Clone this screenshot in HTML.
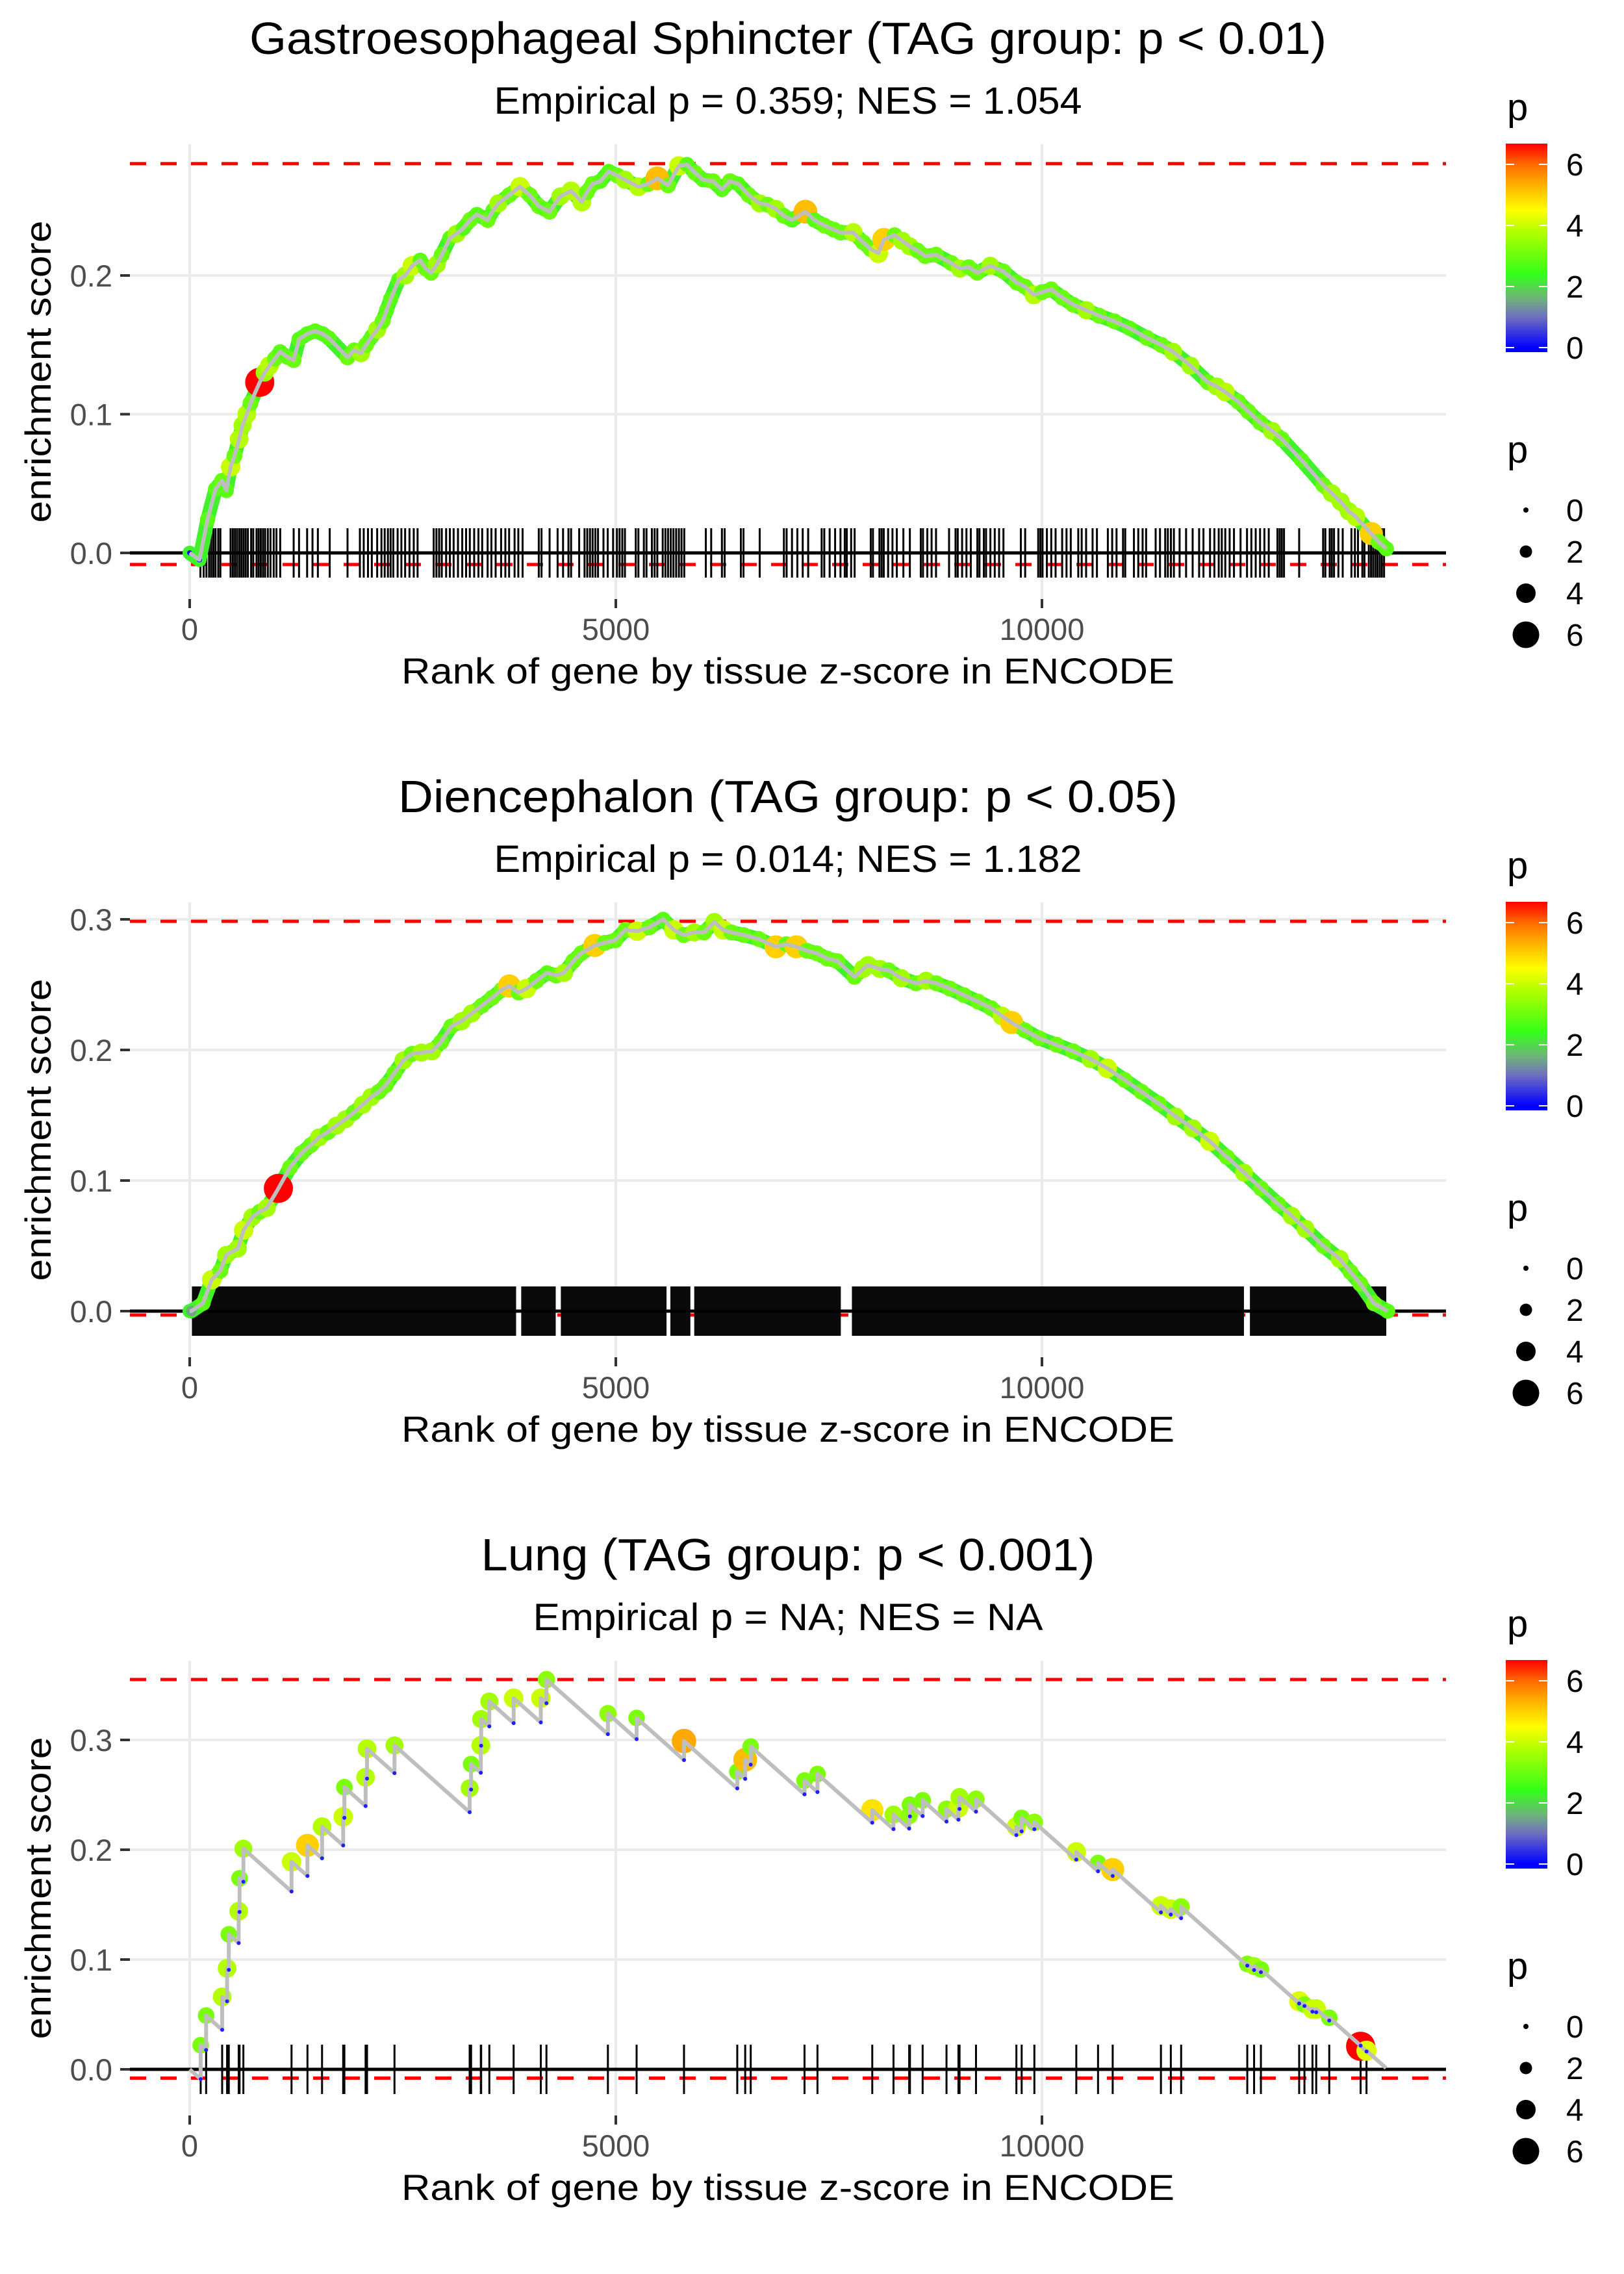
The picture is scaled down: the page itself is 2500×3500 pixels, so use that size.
<!DOCTYPE html>
<html><head><meta charset="utf-8">
<style>
html,body{margin:0;padding:0;background:#fff;}
svg{display:block;font-family:"Liberation Sans",Arial,sans-serif;}
</style></head>
<body>
<svg id="fig" xmlns="http://www.w3.org/2000/svg" width="2500" height="3500" viewBox="0 0 2500 3500">
<rect x="0" y="0" width="2500" height="3500" fill="#fff"/>
<g id="panel0"></g>
<g id="panel1"></g>
<g id="panel2"></g>
</svg>
<script>
// ---------- data ----------
const panelTitles = ["Gastroesophageal Sphincter (TAG group: p < 0.01)", "Diencephalon (TAG group: p < 0.05)", "Lung (TAG group: p < 0.001)"];
const panelSubtitles = ["Empirical p = 0.359; NES = 1.054", "Empirical p = 0.014; NES = 1.182", "Empirical p = NA; NES = NA"];
const titleWidths = [1658, 1200, 945];
const subWidths = [905, 905, 785];
const xTicks = [0, 5000, 10000];
const xTickLabels = ["0", "5000", "10000"];
const yTicks1 = [0, 0.1, 0.2];
const yTicks2 = [0, 0.1, 0.2, 0.3];
const yTicks3 = [0, 0.1, 0.2, 0.3];
const esMax = [0.2806, 0.2985, 0.355];
const esMin = [-0.0084, -0.003, -0.008];

const p1Rank = [0,114,209,303,380,430,480,525,580,620,670,714,822,880,935,1000,1062,1150,1220,1283,1380,1473,1560,1631,1852,1930,2010,2070,2137,2200,2263,2310,2358,2453,2530,2611,2705,2770,2832,2900,2958,3053,3130,3211,3290,3369,3496,3560,3622,3750,3875,3990,4096,4160,4222,4349,4475,4602,4660,4728,4820,4918,5020,5107,5265,5380,5487,5613,5740,5834,5930,6024,6140,6245,6340,6435,6560,6688,6780,6877,6970,7067,7225,7330,7446,7560,7636,7786,7900,7991,8080,8144,8271,8360,8450,8540,8629,8756,8935,9037,9140,9241,9394,9547,9701,9800,9905,10000,10109,10240,10365,10520,10671,10850,11028,11232,11400,11539,11743,11947,12050,12151,12304,12420,12560,12700,12815,13045,13300,13400,13505,13600,13684,13863,13950,14041];
const p1ES = [0,-0.005,0.024,0.046,0.052,0.045,0.062,0.070,0.082,0.092,0.100,0.108,0.123,0.130,0.135,0.140,0.145,0.141,0.139,0.154,0.158,0.160,0.158,0.155,0.141,0.146,0.144,0.150,0.156,0.161,0.167,0.175,0.183,0.197,0.200,0.207,0.211,0.205,0.202,0.208,0.215,0.227,0.230,0.234,0.240,0.244,0.240,0.247,0.252,0.258,0.264,0.258,0.250,0.248,0.246,0.257,0.261,0.253,0.260,0.266,0.268,0.275,0.272,0.269,0.264,0.266,0.270,0.265,0.279,0.280,0.274,0.269,0.268,0.262,0.268,0.266,0.258,0.252,0.251,0.248,0.243,0.240,0.246,0.240,0.236,0.233,0.231,0.231,0.224,0.219,0.216,0.226,0.229,0.225,0.221,0.218,0.214,0.215,0.209,0.205,0.206,0.202,0.207,0.203,0.195,0.192,0.186,0.188,0.190,0.184,0.179,0.175,0.171,0.167,0.162,0.155,0.150,0.145,0.135,0.123,0.120,0.116,0.109,0.102,0.094,0.088,0.082,0.067,0.049,0.043,0.037,0.030,0.026,0.014,0.008,0.003];
const p1P = [0,0,2.8,2.8,3.0,2.8,4.0,3.0,3.8,3.6,3.8,3.0,6.7,3.6,3.8,3.0,2.8,2.8,3.0,2.8,2.8,2.8,2.8,2.8,3.0,3.0,3.6,3.0,2.8,3.6,3.0,2.8,2.8,2.8,3.6,4.0,2.8,3.0,3.0,3.6,3.0,2.8,3.6,2.8,3.0,2.8,3.0,2.8,3.6,3.0,4.0,3.0,3.0,2.8,3.0,3.6,3.8,3.8,3.0,3.0,2.8,2.8,3.0,3.6,3.8,3.0,5.2,3.0,4.0,2.8,3.0,2.8,3.0,2.8,3.0,2.8,3.0,3.6,3.0,3.6,3.0,2.8,5.2,2.8,3.0,3.0,3.0,3.8,3.0,3.0,4.0,5.0,3.0,3.6,3.6,3.0,3.0,3.0,3.0,3.6,3.0,3.0,3.6,3.0,3.0,3.0,3.8,3.0,3.0,3.0,3.0,3.6,3.0,3.0,2.8,3.0,3.0,3.6,3.6,3.0,3.6,3.8,3.0,3.0,3.0,3.6,3.0,2.8,3.0,3.6,3.6,3.6,3.8,5.0,3.0,2.8];
const p1Rug = [126,164,196,228,253,278,303,335,360,480,506,531,556,582,607,632,657,683,721,746,784,809,834,860,885,917,948,986,1018,1062,1220,1283,1378,1441,1504,1643,1852,1997,2042,2092,2137,2200,2250,2288,2326,2358,2389,2440,2484,2528,2579,2629,2674,2863,2895,2927,2958,3009,3053,3097,3148,3198,3243,3287,3338,3388,3432,3496,3540,3590,3654,3704,3748,3812,3856,3906,4096,4128,4223,4317,4381,4444,4475,4570,4633,4665,4697,4728,4760,4791,4855,4905,4968,5013,5044,5076,5107,5234,5265,5329,5360,5423,5455,5487,5550,5582,5613,5645,5676,5708,5740,5771,5803,6056,6119,6245,6277,6467,6498,6688,6972,7004,7067,7130,7193,7257,7415,7446,7509,7573,7636,7686,7710,7761,7802,7991,8017,8093,8119,8144,8195,8246,8297,8374,8450,8578,8604,8655,8705,8757,8910,8986,9012,9063,9114,9165,9242,9267,9318,9344,9395,9446,9497,9548,9752,9803,9956,9982,10007,10058,10109,10160,10237,10288,10338,10426,10466,10518,10594,10645,10773,10824,10875,10951,10977,11079,11130,11181,11222,11334,11385,11446,11477,11513,11548,11615,11691,11768,11844,11895,11972,12023,12074,12110,12151,12202,12253,12330,12406,12457,12508,12559,12610,12661,12763,12789,12814,12840,13018,13299,13325,13376,13401,13427,13478,13529,13631,13672,13708,13759,13784,13835,13861,13886,13912,13937,13963,13988,14014];

const p2Rank = [0,20,156,258,360,428,565,633,735,820,905,1041,1177,1313,1420,1517,1620,1722,1830,1926,2030,2130,2220,2301,2400,2508,2607,2720,2845,2950,3069,3190,3310,3430,3550,3660,3751,3860,3951,4070,4192,4300,4392,4500,4593,4753,4870,4994,5114,5250,5395,5555,5680,5796,5920,6036,6156,6260,6357,6500,6677,6878,7000,7118,7240,7359,7480,7599,7800,7900,7960,8100,8201,8350,8522,8640,8762,8920,9083,9250,9404,9530,9644,9800,9965,10170,10366,10570,10767,10970,11168,11370,11569,11770,11970,12170,12371,12570,12772,12930,13093,13300,13494,13620,13735,13895,14056];
const p2ES = [0,0,0.006,0.024,0.031,0.043,0.048,0.062,0.072,0.076,0.079,0.094,0.110,0.121,0.127,0.133,0.137,0.142,0.147,0.152,0.158,0.164,0.168,0.173,0.182,0.192,0.197,0.198,0.199,0.206,0.218,0.222,0.228,0.234,0.240,0.246,0.249,0.244,0.247,0.253,0.259,0.257,0.259,0.268,0.274,0.280,0.282,0.284,0.292,0.291,0.294,0.300,0.292,0.288,0.290,0.290,0.298,0.292,0.290,0.288,0.285,0.279,0.281,0.279,0.276,0.274,0.270,0.268,0.256,0.262,0.265,0.262,0.261,0.255,0.251,0.253,0.251,0.247,0.242,0.237,0.232,0.226,0.221,0.215,0.209,0.204,0.199,0.193,0.186,0.177,0.168,0.159,0.149,0.140,0.130,0.118,0.106,0.094,0.082,0.073,0.063,0.050,0.040,0.030,0.021,0.006,0.000];
const p2P = [0,1.5,2.8,4.0,3.0,3.6,3.6,4.0,3.6,3.0,3.6,6.7,3.0,3.0,3.0,3.6,3.0,3.6,3.6,3.0,3.6,3.6,3.0,3.0,3.0,3.6,3.0,3.6,3.6,3.0,3.0,3.6,3.6,3.0,3.0,3.0,5.0,3.0,4.0,3.0,2.8,3.0,3.6,3.0,3.0,5.0,3.0,3.0,3.0,4.0,3.0,2.8,4.0,3.0,3.6,3.0,3.6,4.0,3.0,3.0,3.0,5.0,3.0,5.0,3.0,3.0,3.0,3.0,3.0,3.6,3.6,3.6,3.0,3.6,3.0,3.6,3.0,3.0,3.0,3.0,3.0,3.8,5.0,3.0,3.0,3.0,3.0,3.6,4.0,3.0,3.0,3.0,3.6,3.6,4.0,3.0,3.6,3.0,3.0,3.6,3.6,3.0,3.6,3.0,3.0,3.0,2.8];
const p2RugStart = [26,3890,4355,5640,5920,7770,12440];
const p2RugEnd = [3830,4295,5595,5875,7640,12370,14040];

const p3Rank = [129,193,381,439,459,575,585,630,1195,1382,1553,1801,1815,2064,2081,2403,3285,3302,3416,3420,3516,3801,4120,4186,4907,5244,5800,6425,6518,6583,7214,7366,8009,8258,8442,8451,8600,8880,9020,9033,9226,9700,9762,9911,10403,10658,10830,11396,11512,11633,12409,12489,12569,13018,13080,13174,13218,13371,13739,13808];
const p3Top = [0.022,0.049,0.066,0.092,0.123,0.144,0.174,0.201,0.189,0.204,0.221,0.230,0.257,0.266,0.292,0.295,0.256,0.278,0.295,0.319,0.335,0.338,0.338,0.355,0.324,0.320,0.299,0.271,0.282,0.294,0.263,0.269,0.236,0.232,0.231,0.241,0.245,0.237,0.238,0.248,0.246,0.221,0.229,0.225,0.198,0.188,0.182,0.149,0.146,0.148,0.096,0.094,0.091,0.062,0.059,0.055,0.055,0.047,0.021,0.017];
const p3P = [3.2,3.2,3.8,3.8,3.2,3.8,3.2,3.6,4.0,5.0,3.8,4.0,3.2,3.8,3.8,3.6,3.6,3.2,3.8,3.6,3.6,4.0,4.0,3.4,3.4,3.2,5.4,3.2,5.2,3.2,3.2,3.2,4.8,3.6,3.4,3.2,3.2,3.4,4.0,3.6,3.4,4.0,3.2,3.4,4.0,3.2,5.0,4.0,4.0,3.4,3.2,3.6,3.2,4.2,3.2,4.0,4.0,3.2,6.7,4.2];
const p3Decline = 0.000069;
const p3EndRank = 14037;

const colorStops = [0, 1.0, 1.6, 2.4, 3.7, 4.5, 5.3, 6.0, 6.68];
const colorHex = ["#0000ff", "#6f6fc0", "#6fb27a", "#33ff1a", "#aaff00", "#ffff00", "#ffb400", "#ff6a00", "#ff0000"];
const sizeBreaks = [0, 2, 4, 6];
const colorBreaks = [0, 2, 4, 6];

// ---------- layout ----------
const NS = "http://www.w3.org/2000/svg";
const PANEL_H = 1167;
const X0 = 292, XK = 0.1312;
const PL = 200, PR = 2226, PT = 222, PB = 922;
const yZero = [851, 851, 851];
const yScaleK = [2135, 2010, 1690];

function sx(r) { return X0 + r * XK; }
function mk(tag, attrs, parent) {
  const e = document.createElementNS(NS, tag);
  for (const k in attrs) e.setAttribute(k, attrs[k]);
  parent.appendChild(e);
  return e;
}
function hex2rgb(h) { return [parseInt(h.substr(1,2),16), parseInt(h.substr(3,2),16), parseInt(h.substr(5,2),16)]; }
function pColor(p) {
  if (p <= colorStops[0]) return colorHex[0];
  for (let i = 1; i < colorStops.length; i++) {
    if (p <= colorStops[i]) {
      const t = (p - colorStops[i-1]) / (colorStops[i] - colorStops[i-1]);
      const a = hex2rgb(colorHex[i-1]), b = hex2rgb(colorHex[i]);
      return "rgb(" + a.map((v, j) => Math.round(v + (b[j]-v)*t)).join(",") + ")";
    }
  }
  return colorHex[colorHex.length-1];
}
function pRadius(p) { return 4 + 2.75 * p; }

function drawPanel(k, yTicks, title, sub) {
  const g = document.getElementById("panel" + k);
  const off = k * PANEL_H;
  const sy = v => off + yZero[k] - v * yScaleK[k];

  for (let i = 0; i < yTicks.length; i++) {
    const gl = mk("line", {x1: PL, x2: PR, y1: sy(yTicks[i]), y2: sy(yTicks[i]), stroke: "#ebebeb", "stroke-width": 4}, g);
    
    
  }
  for (let i = 0; i < xTicks.length; i++) {
    const gl = mk("line", {x1: sx(xTicks[i]), x2: sx(xTicks[i]), y1: off + PT, y2: off + PB, stroke: "#ebebeb", "stroke-width": 4}, g);
    
    
  }
  const t = mk("text", {x: 1213, y: off + 83, "text-anchor": "middle", "font-size": 70, fill: "#000", textLength: titleWidths[k], lengthAdjust: "spacingAndGlyphs"}, g);
  t.textContent = title;
  
  
  const st = mk("text", {x: 1213, y: off + 175, "text-anchor": "middle", "font-size": 58, fill: "#000", textLength: subWidths[k], lengthAdjust: "spacingAndGlyphs"}, g);
  st.textContent = sub;
  
  
  for (let i = 0; i < yTicks.length; i++) {
    const tk = mk("line", {x1: 185, x2: 200, y1: sy(yTicks[i]), y2: sy(yTicks[i]), stroke: "#333", "stroke-width": 4}, g);
    
    
    const tl = mk("text", {x: 173, y: sy(yTicks[i]) + 17, "text-anchor": "end", "font-size": 47, fill: "#4d4d4d"}, g);
    tl.textContent = yTicks[i].toFixed(1);
    
    
  }
  for (let i = 0; i < xTicks.length; i++) {
    const tk = mk("line", {x1: sx(xTicks[i]), x2: sx(xTicks[i]), y1: off + PB, y2: off + PB + 14, stroke: "#333", "stroke-width": 4}, g);
    
    
    const tl = mk("text", {x: sx(xTicks[i]), y: off + 985, "text-anchor": "middle", "font-size": 47, fill: "#4d4d4d"}, g);
    tl.textContent = xTickLabels[i];
    
    
  }
  const xt = mk("text", {x: 1213, y: off + 1052, "text-anchor": "middle", "font-size": 56, fill: "#000", textLength: 1190, lengthAdjust: "spacingAndGlyphs"}, g);
  xt.textContent = "Rank of gene by tissue z-score in ENCODE";
  
  
  const yt = mk("text", {x: 0, y: 0, "text-anchor": "middle", "font-size": 56, fill: "#000", transform: "translate(78," + (off + 572) + ") rotate(-90)", textLength: 465, lengthAdjust: "spacingAndGlyphs"}, g);
  yt.textContent = "enrichment score";
  
  
  return {g: g, sy: sy, off: off};
}

function drawRefLines(P, k) {
  const top = mk("line", {x1: PL, x2: PR, y1: P.sy(esMax[k]), y2: P.sy(esMax[k]), stroke: "#ff0000", "stroke-width": 5, "stroke-dasharray": "25 22"}, P.g);
  
  
  const bot = mk("line", {x1: PL, x2: PR, y1: P.sy(esMin[k]), y2: P.sy(esMin[k]), stroke: "#ff0000", "stroke-width": 5, "stroke-dasharray": "25 22"}, P.g);
  
  
}
function drawZero(P) {
  const z = mk("line", {x1: PL, x2: PR, y1: P.sy(0), y2: P.sy(0), stroke: "#000", "stroke-width": 5}, P.g);
  
  
}
function drawRug(P, ranks) {
  for (let i = 0; i < ranks.length; i++) {
    const l = mk("line", {x1: sx(ranks[i]), x2: sx(ranks[i]), y1: P.sy(0) - 38, y2: P.sy(0) + 38, stroke: "#000", "stroke-width": 3}, P.g);
    
    
  }
}

function drawLegend(off) {
  const g = mk("g", {}, document.getElementById("fig"));
  
  
  const defs = mk("defs", {}, g);
  const gid = "cb" + off;
  const grad = mk("linearGradient", {id: gid, x1: 0, y1: 1, x2: 0, y2: 0}, defs);
  const vMin = -0.15, vMax = 6.68;
  for (let i = 0; i < colorStops.length; i++) {
    mk("stop", {offset: ((colorStops[i] - vMin) / (vMax - vMin)).toFixed(3), "stop-color": colorHex[i]}, grad);
  }
  const t1 = mk("text", {x: 2320, y: off + 185, "font-size": 58, fill: "#000"}, g);
  t1.textContent = "p";
  
  
  const bar = mk("rect", {x: 2318, y: off + 221, width: 64, height: 321, fill: "url(#" + gid + ")"}, g);
  
  
  const cy = v => off + 535 - v * 47;
  for (let i = 0; i < colorBreaks.length; i++) {
    const y = cy(colorBreaks[i]);
    const a = mk("line", {x1: 2318, x2: 2331, y1: y, y2: y, stroke: "#fff", "stroke-width": 2}, g);
    
    
    const b = mk("line", {x1: 2369, x2: 2382, y1: y, y2: y, stroke: "#fff", "stroke-width": 2}, g);
    
    
    const l = mk("text", {x: 2411, y: y + 17, "font-size": 48, fill: "#000"}, g);
    l.textContent = String(colorBreaks[i]);
    
    
  }
  const t2 = mk("text", {x: 2320, y: off + 712, "font-size": 58, fill: "#000"}, g);
  t2.textContent = "p";
  
  
  for (let i = 0; i < sizeBreaks.length; i++) {
    const y = off + 785 + i * 64;
    const c = mk("circle", {cx: 2349, cy: y, r: pRadius(sizeBreaks[i]), fill: "#000"}, g);
    
    
    const l = mk("text", {x: 2411, y: y + 17, "font-size": 48, fill: "#000"}, g);
    l.textContent = String(sizeBreaks[i]);
    
    
  }
}

function drawDenseCurve(P, ranks, es, ps) {
  const pts = ranks.map((r, i) => sx(r).toFixed(1) + "," + P.sy(es[i]).toFixed(1)).join(" ");
  const under = mk("polyline", {points: pts, fill: "none", stroke: "#3ff22a", "stroke-width": 22, "stroke-linejoin": "round", "stroke-linecap": "round"}, P.g);
  
  
  for (let i = 0; i < ranks.length; i++) {
    const c = mk("circle", {cx: sx(ranks[i]), cy: P.sy(es[i]), r: pRadius(ps[i]), fill: pColor(ps[i])}, P.g);
    
    
  }
  const line = mk("polyline", {points: pts, fill: "none", stroke: "#bebebe", "stroke-width": 6, "stroke-linejoin": "round"}, P.g);
  
  
}

// Panel 1
let P = drawPanel(0, yTicks1, panelTitles[0], panelSubtitles[0]);
drawRefLines(P, 0);
drawZero(P);
drawRug(P, p1Rug);
drawDenseCurve(P, p1Rank, p1ES, p1P);
drawLegend(0);

// Panel 2
P = drawPanel(1, yTicks2, panelTitles[1], panelSubtitles[1]);
drawRefLines(P, 1);
for (let i = 0; i < p2RugStart.length; i++) {
  const r = mk("rect", {x: sx(p2RugStart[i]), y: P.sy(0) - 38, width: sx(p2RugEnd[i]) - sx(p2RugStart[i]), height: 76, fill: "#0a0a0a"}, P.g);
  
  
}
drawZero(P);
drawDenseCurve(P, p2Rank, p2ES, p2P);
drawLegend(PANEL_H);

// Panel 3
P = drawPanel(2, yTicks3, panelTitles[2], panelSubtitles[2]);
drawRefLines(P, 2);
drawZero(P);
drawRug(P, p3Rank);
(function () {
  const pts = [[sx(0), P.sy(0)]];
  const bottoms = [];
  let prevR = 0, prevE = 0;
  for (let i = 0; i < p3Rank.length; i++) {
    const b = prevE - p3Decline * (p3Rank[i] - prevR);
    bottoms.push(b);
    pts.push([sx(p3Rank[i]), P.sy(b)]);
    pts.push([sx(p3Rank[i]), P.sy(p3Top[i])]);
    prevR = p3Rank[i]; prevE = p3Top[i];
  }
  pts.push([sx(p3EndRank), P.sy(Math.max(0, prevE - p3Decline * (p3EndRank - prevR)))]);
  for (let i = 0; i < p3Rank.length; i++) {
    const c = mk("circle", {cx: sx(p3Rank[i]), cy: P.sy(p3Top[i]), r: pRadius(p3P[i]), fill: pColor(p3P[i])}, P.g);
    
    
  }
  const line = mk("polyline", {points: pts.map(q => q[0].toFixed(1) + "," + q[1].toFixed(1)).join(" "), fill: "none", stroke: "#bebebe", "stroke-width": 6, "stroke-linejoin": "round"}, P.g);
  
  
  for (let i = 0; i < bottoms.length; i++) {
    const d = mk("circle", {cx: sx(p3Rank[i]), cy: P.sy(bottoms[i]), r: 3, fill: "#2020ff"}, P.g);
    
    
  }
})();
drawLegend(2 * PANEL_H);
</script>
</body></html>
